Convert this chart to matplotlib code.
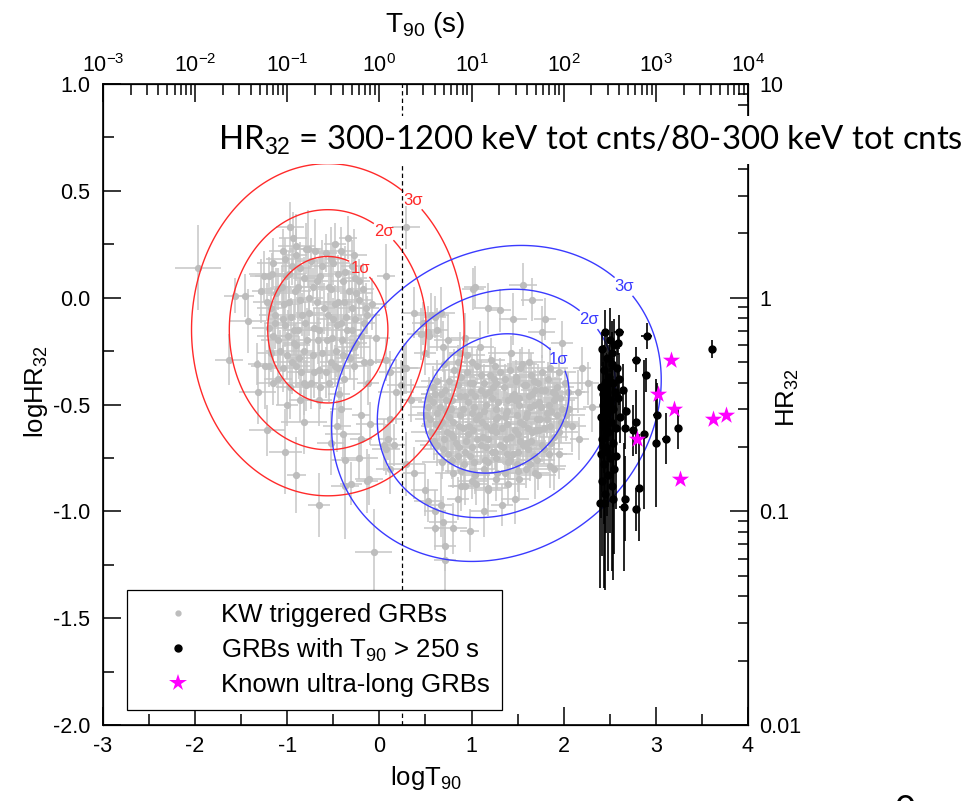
import numpy as np
import matplotlib.pyplot as plt
from matplotlib.lines import Line2D
from matplotlib.ticker import MultipleLocator, LogLocator, FixedLocator, FuncFormatter, NullFormatter

plt.rcParams['font.family'] = ['Liberation Sans', 'DejaVu Sans']
plt.rcParams['axes.unicode_minus'] = False
plt.rcParams['mathtext.fontset'] = 'custom'
plt.rcParams['mathtext.rm'] = 'Liberation Sans'
plt.rcParams['mathtext.it'] = 'Liberation Sans:italic'
plt.rcParams['mathtext.bf'] = 'Liberation Sans:bold'

# KW triggered GRBs: logT90, logHR32 and their 1-sigma errors
kw_logt = [
    -1.97, -0.97, -0.90, -0.77, -1.17, -1.28, -1.57, -1.46, -1.43, -1.63, -1.33, -1.24, -1.32, -0.82, -1.22,
    -1.02, -0.90, -0.66, -0.39, -0.53, -0.37, -0.22, -0.13, -0.06, 0.05, 0.09, -0.10, -0.20, -0.04, 0.07,
    -0.08, -0.17, -0.28, -0.48, -0.71, -0.82, -0.86, -0.66, 0.29,
    -1.18, -1.12, -1.05, -0.98, -0.93, -0.88, -0.84, -0.79, -1.15, -1.08, -1.01, -0.95, -0.90, -0.86, -0.81,
    -0.76, -1.20, -1.10, -1.03, -0.97, -0.91, -0.85, -0.72, -0.66, -0.60, -0.55, -0.50, -0.45, -0.40, -0.35,
    -0.30, -0.25, -0.20, -0.62, -0.57, -0.52, -0.47, -0.42, -0.37, -0.32, -0.27, -0.22, -0.17, -0.58, -0.48,
    -0.38, -0.28, -0.68, -0.74, -1.00, -0.94, -0.70, -0.64, -0.44, -0.34, -1.25, -0.15, -0.12, -1.06, -0.99,
    -0.87, -1.13, -0.53, -0.41,
    0.38, 0.56, 0.67, 0.47, 0.45, 0.54, 0.74, 1.02, 0.27, 0.18, 0.12, 0.29, 0.49, 0.67, 0.80,
    0.60, 0.71, 0.69, 0.71, 0.98, 0.53, 0.38, 0.11, 0.16, 0.07, -0.31, -0.11, 0.34, 0.23, 0.12,
    0.29, 0.49, 0.53, 0.62, 0.69, 0.07, -0.10, -0.42, -0.46, 0.60, 0.93, 0.87, 1.09, 1.04, 1.56,
    1.66, 1.18, 1.31, 1.45, 1.80, 1.76, 1.98, 2.20, 2.26, 2.31, 2.15, 2.09, 2.17, 1.95, 1.89,
    1.69, 1.51, 1.47, 1.33, 1.18, 1.05, 0.89, 0.85, 1.13, 0.60, -0.20, -0.37,
    0.95, 1.21, 1.43, 1.62, 0.81, 1.06, 1.31, 1.53, 1.76, 0.63, 0.89, 1.13, 1.36, 1.59, 1.83,
    2.01, 0.71, 0.99, 1.23, 1.46, 1.69, 1.91, 0.54, 0.79, 1.04, 1.29, 1.51, 1.73, 1.96, 0.66,
    0.91, 1.16, 1.39, 1.63, 1.86, 2.06, 0.51, 0.76, 1.01, 1.26, 1.49, 1.71, 1.93, 0.61, 0.86,
    1.11, 1.33, 1.56, 1.79, 2.02, 0.73, 0.96, 1.21, 1.43, 1.66, 1.89, 0.59, 0.83, 1.06, 1.31,
    1.53, 1.76, 0.69, 0.93, 1.16, 1.39, 1.61, 1.84, 0.79, 1.03, 1.26, 1.49, 1.71, 0.89, 1.13,
    1.36, 1.59, 1.01, 1.26,
    0.85, 1.10, 1.48, 1.68, 0.60, 0.88, 1.15, 1.40, 1.62, 1.84, 0.72, 1.08, 1.36, 1.60, 1.82,
    0.68, 0.97, 1.24, 1.47, 1.70, 0.80, 1.12, 1.37, 1.60, 1.00, 1.25, 1.50, 0.85, 1.15, 1.40,
    0.98, 1.27, 1.75,
]
kw_loghr = [
    0.14, 0.33, 0.24, 0.23, 0.11, 0.03, 0.01, 0.01, -0.11, -0.29, -0.31, -0.32, -0.44, -0.58, -0.62,
    -0.72, -0.83, -0.97, -0.64, -0.68, -0.88, -0.75, -0.86, -1.19, -0.69, -0.66, -0.59, -0.55, -0.19, 0.10,
    -0.03, -0.12, -0.23, -0.32, -0.35, -0.40, -0.48, -0.48, 0.33,
    -0.05, 0.02, -0.10, -0.02, -0.15, 0.05, -0.08, -0.20, -0.18, -0.25, 0.10, -0.30, -0.22, 0.14, -0.12,
    0.00, -0.32, -0.38, 0.18, -0.42, 0.20, -0.35, -0.27, -0.15, -0.05, 0.05, -0.10, -0.02, 0.08, -0.15,
    -0.05, 0.02, -0.18, 0.15, -0.20, 0.18, -0.25, -0.12, 0.12, -0.28, -0.10, 0.08, -0.30, -0.35, 0.25,
    -0.38, 0.20, 0.08, -0.40, -0.50, 0.28, 0.22, -0.42, -0.45, 0.28, 0.10, -0.05, -0.40, 0.05, -0.18,
    -0.28, -0.12, -0.30, -0.20,
    -0.07, -0.08, -0.07, -0.12, -0.17, -0.18, -0.20, 0.04, -0.33, -0.44, -0.57, -0.78, -0.90, -0.97, -1.08,
    -1.08, -1.23, -1.05, -1.16, -1.09, -0.95, -0.82, -0.80, -0.69, -0.71, -0.87, -0.85, -0.48, -0.41, -0.35,
    -0.33, -0.26, -0.16, -0.15, -0.23, -0.29, -0.30, -0.52, -0.60, -0.09, -0.19, -0.26, -0.23, 0.05, 0.06,
    -0.01, -0.05, -0.06, -0.10, -0.10, -0.16, -0.21, -0.33, -0.40, -0.51, -0.44, -0.60, -0.66, -0.73, -0.80,
    -0.82, -0.85, -0.94, -0.97, -0.90, -0.87, -0.88, -0.94, -1.00, -1.00, -0.66, -0.76,
    -0.27, -0.29, -0.26, -0.30, -0.34, -0.32, -0.35, -0.33, -0.35, -0.39, -0.37, -0.40, -0.38, -0.41, -0.38,
    -0.40, -0.43, -0.44, -0.42, -0.45, -0.43, -0.45, -0.47, -0.48, -0.46, -0.49, -0.47, -0.49, -0.47, -0.51,
    -0.52, -0.50, -0.53, -0.51, -0.53, -0.52, -0.55, -0.56, -0.54, -0.57, -0.55, -0.57, -0.55, -0.59, -0.60,
    -0.58, -0.61, -0.59, -0.61, -0.59, -0.63, -0.64, -0.62, -0.65, -0.63, -0.65, -0.67, -0.68, -0.66, -0.69,
    -0.67, -0.69, -0.71, -0.72, -0.70, -0.73, -0.71, -0.73, -0.76, -0.77, -0.75, -0.78, -0.76, -0.81, -0.80,
    -0.82, -0.80, -0.86, -0.85,
    -0.30, -0.36, -0.37, -0.39, -0.45, -0.46, -0.45, -0.48, -0.46, -0.50, -0.53, -0.55, -0.56, -0.54, -0.57,
    -0.58, -0.60, -0.60, -0.62, -0.62, -0.65, -0.65, -0.66, -0.68, -0.70, -0.72, -0.72, -0.74, -0.76, -0.77,
    -0.40, -0.40, -0.43,
]
kw_dt = [
    0.25, 0.15, 0.20, 0.12, 0.25, 0.10, 0.12, 0.10, 0.20, 0.15, 0.10, 0.15, 0.20, 0.25, 0.20,
    0.18, 0.10, 0.12, 0.20, 0.15, 0.15, 0.20, 0.12, 0.20, 0.15, 0.10, 0.15, 0.10, 0.15, 0.10,
    0.15, 0.12, 0.18, 0.15, 0.20, 0.15, 0.12, 0.15, 0.15,
    0.15, 0.20, 0.15, 0.18, 0.12, 0.20, 0.15, 0.12, 0.18, 0.15, 0.12, 0.20, 0.15, 0.12, 0.18,
    0.15, 0.12, 0.15, 0.20, 0.15, 0.12, 0.15, 0.18, 0.15, 0.12, 0.15, 0.18, 0.15, 0.12, 0.15,
    0.15, 0.18, 0.12, 0.15, 0.12, 0.15, 0.18, 0.15, 0.12, 0.15, 0.15, 0.12, 0.18, 0.15, 0.12,
    0.15, 0.15, 0.12, 0.15, 0.12, 0.15, 0.12, 0.15, 0.12, 0.10, 0.15, 0.15, 0.12, 0.10, 0.12,
    0.15, 0.12, 0.12, 0.15,
    0.15, 0.20, 0.15, 0.12, 0.15, 0.12, 0.15, 0.12, 0.15, 0.20, 0.15, 0.20, 0.15, 0.12, 0.15,
    0.12, 0.12, 0.15, 0.12, 0.10, 0.15, 0.12, 0.15, 0.12, 0.15, 0.12, 0.15, 0.12, 0.15, 0.12,
    0.15, 0.12, 0.15, 0.12, 0.15, 0.12, 0.15, 0.12, 0.15, 0.12, 0.15, 0.12, 0.15, 0.12, 0.15,
    0.12, 0.15, 0.12, 0.15, 0.12, 0.15, 0.12, 0.10, 0.12, 0.10, 0.12, 0.15, 0.10, 0.15, 0.12,
    0.15, 0.12, 0.15, 0.12, 0.15, 0.12, 0.15, 0.12, 0.15, 0.12, 0.12, 0.15,
    0.20, 0.15, 0.25, 0.18, 0.22, 0.18, 0.20, 0.15, 0.20, 0.18, 0.15, 0.25, 0.18, 0.20, 0.15,
    0.18, 0.20, 0.16, 0.22, 0.18, 0.15, 0.20, 0.18, 0.22, 0.15, 0.20, 0.18, 0.16, 0.20, 0.18,
    0.20, 0.15, 0.22, 0.18, 0.15, 0.18, 0.20, 0.16, 0.22, 0.18, 0.15, 0.20, 0.18, 0.15, 0.20,
    0.18, 0.22, 0.16, 0.20, 0.15, 0.18, 0.20, 0.15, 0.18, 0.22, 0.16, 0.20, 0.18, 0.15, 0.20,
    0.18, 0.15, 0.22, 0.18, 0.20, 0.15, 0.18, 0.20, 0.16, 0.20, 0.18, 0.15, 0.20, 0.18, 0.15,
    0.20, 0.18, 0.16, 0.20,
    0.15, 0.18, 0.15, 0.20, 0.15, 0.18, 0.15, 0.20, 0.16, 0.18, 0.15, 0.20, 0.15, 0.18, 0.16,
    0.20, 0.15, 0.18, 0.16, 0.20, 0.15, 0.18, 0.20, 0.15, 0.18, 0.16, 0.20, 0.15, 0.18, 0.15,
    0.16, 0.20, 0.15,
]
kw_dhr = [
    0.20, 0.12, 0.15, 0.18, 0.10, 0.15, 0.08, 0.10, 0.15, 0.12, 0.10, 0.20, 0.15, 0.15, 0.12,
    0.20, 0.18, 0.15, 0.12, 0.15, 0.25, 0.10, 0.15, 0.20, 0.12, 0.10, 0.10, 0.12, 0.12, 0.15,
    0.12, 0.10, 0.12, 0.10, 0.12, 0.15, 0.10, 0.12, 0.10,
    0.10, 0.12, 0.15, 0.10, 0.12, 0.15, 0.10, 0.15, 0.12, 0.10, 0.12, 0.15, 0.10, 0.12, 0.10,
    0.15, 0.10, 0.12, 0.10, 0.15, 0.12, 0.10, 0.12, 0.10, 0.12, 0.15, 0.10, 0.12, 0.10, 0.12,
    0.10, 0.12, 0.10, 0.12, 0.10, 0.15, 0.12, 0.10, 0.12, 0.10, 0.12, 0.10, 0.12, 0.12, 0.10,
    0.15, 0.12, 0.10, 0.12, 0.10, 0.12, 0.15, 0.10, 0.12, 0.10, 0.12, 0.12, 0.10, 0.10, 0.12,
    0.10, 0.12, 0.10, 0.10,
    0.12, 0.10, 0.12, 0.10, 0.12, 0.10, 0.12, 0.10, 0.12, 0.15, 0.12, 0.15, 0.12, 0.15, 0.12,
    0.10, 0.15, 0.12, 0.12, 0.10, 0.10, 0.12, 0.12, 0.10, 0.12, 0.10, 0.12, 0.10, 0.12, 0.10,
    0.12, 0.10, 0.12, 0.10, 0.12, 0.10, 0.12, 0.10, 0.12, 0.10, 0.12, 0.10, 0.12, 0.10, 0.10,
    0.10, 0.12, 0.10, 0.12, 0.10, 0.12, 0.10, 0.10, 0.10, 0.12, 0.10, 0.12, 0.10, 0.12, 0.10,
    0.12, 0.10, 0.12, 0.10, 0.12, 0.10, 0.12, 0.10, 0.12, 0.10, 0.10, 0.12,
    0.08, 0.10, 0.08, 0.06, 0.10, 0.08, 0.07, 0.09, 0.08, 0.10, 0.08, 0.09, 0.07, 0.10, 0.08,
    0.07, 0.09, 0.08, 0.10, 0.07, 0.09, 0.08, 0.10, 0.08, 0.09, 0.07, 0.10, 0.08, 0.09, 0.08,
    0.10, 0.07, 0.09, 0.08, 0.10, 0.07, 0.09, 0.08, 0.10, 0.07, 0.09, 0.08, 0.10, 0.08, 0.09,
    0.07, 0.10, 0.08, 0.09, 0.08, 0.10, 0.07, 0.09, 0.08, 0.10, 0.08, 0.09, 0.07, 0.10, 0.08,
    0.09, 0.08, 0.10, 0.07, 0.09, 0.08, 0.10, 0.08, 0.09, 0.07, 0.10, 0.08, 0.09, 0.08, 0.10,
    0.07, 0.09, 0.08, 0.10,
    0.08, 0.07, 0.08, 0.09, 0.08, 0.10, 0.07, 0.08, 0.09, 0.08, 0.10, 0.08, 0.09, 0.07, 0.08,
    0.09, 0.08, 0.10, 0.07, 0.09, 0.08, 0.07, 0.10, 0.08, 0.09, 0.08, 0.10, 0.07, 0.09, 0.08,
    0.08, 0.09, 0.08,
]

# densely packed KW bursts in the cores of the two groups
core_logt = [
    0.70, 1.00, 1.25, 1.55, 1.85,
    0.95, 1.20, 1.42, 1.65, 1.95,
    0.75, 1.02, 1.24, 1.48, 1.72, 1.93,
    0.58, 0.85, 1.10, 1.35, 1.57, 1.80, 2.05,
    0.67, 0.93, 1.19, 1.44, 1.66, 1.88,
    0.58, 0.72, 0.96, 1.22, 1.47, 1.68, 1.90,
    0.53, 0.78, 1.03, 1.27, 1.52, 1.75, 1.98,
    0.63, 0.88, 1.13, 1.37, 1.59, 1.82, 2.03,
    0.55, 0.80, 1.05, 1.29, 1.53, 1.74, 1.97,
    0.65, 0.91, 1.16, 1.38, 1.61, 1.85,
    0.56, 0.78, 1.02, 1.27, 1.50, 1.73, 1.95,
    0.70, 0.94, 1.18, 1.42, 1.65, 1.86,
    0.62, 0.86, 1.10, 1.34, 1.56, 1.79,
    0.74, 0.98, 1.22, 1.45, 1.68,
    0.68, 0.92, 1.18, 1.42, 1.63, 1.85,
    0.80, 1.04, 1.28, 1.50, 1.72,
    0.93, 1.18, 1.40,
    -1.05, -0.80, -0.58, -0.42,
    -1.15, -0.95, -0.74, -0.50, -0.30,
    -1.20, -0.98, -0.82, -0.65, -0.45, -0.26,
    -1.10, -0.92, -0.72, -0.52, -0.33, -0.18,
    -1.22, -1.04, -0.86, -0.68, -0.48, -0.38, -0.22,
    -1.13, -0.96, -0.76, -0.56, -0.36, -0.14,
    -1.20, -1.02, -0.88, -0.71, -0.46, -0.30,
    -1.10, -0.93, -0.67, -0.51, -0.25,
    -1.18, -1.00, -0.82, -0.62, -0.40,
    -1.05, -0.90, -0.66, -0.45, -0.28,
    -1.15, -0.80, -0.55,
]
core_loghr = [
    -0.31, -0.30, -0.32, -0.31, -0.33,
    -0.35, -0.36, -0.34, -0.36, -0.35,
    -0.39, -0.40, -0.38, -0.39, -0.40, -0.42,
    -0.42, -0.41, -0.43, -0.42, -0.41, -0.43, -0.44,
    -0.45, -0.46, -0.44, -0.46, -0.45, -0.44,
    -0.49, -0.48, -0.49, -0.47, -0.48, -0.50, -0.48,
    -0.51, -0.52, -0.51, -0.52, -0.50, -0.51, -0.52,
    -0.54, -0.55, -0.53, -0.54, -0.56, -0.54, -0.55,
    -0.57, -0.58, -0.57, -0.56, -0.58, -0.57, -0.58,
    -0.60, -0.61, -0.60, -0.59, -0.61, -0.60,
    -0.63, -0.64, -0.62, -0.63, -0.64, -0.62, -0.63,
    -0.66, -0.67, -0.66, -0.65, -0.67, -0.68,
    -0.69, -0.70, -0.69, -0.70, -0.69, -0.71,
    -0.73, -0.74, -0.72, -0.73, -0.74,
    -0.77, -0.78, -0.77, -0.76, -0.78, -0.79,
    -0.82, -0.83, -0.82, -0.81, -0.83,
    -0.88, -0.89, -0.87,
    0.22, 0.23, 0.21, 0.22,
    0.16, 0.15, 0.17, 0.16, 0.15,
    0.10, 0.11, 0.09, 0.10, 0.11, 0.09,
    0.04, 0.03, 0.05, 0.04, 0.03, 0.04,
    -0.02, -0.03, -0.01, -0.02, -0.03, -0.02, -0.01,
    -0.08, -0.09, -0.07, -0.08, -0.09, -0.08,
    -0.14, -0.13, -0.15, -0.14, -0.13, -0.15,
    -0.20, -0.21, -0.20, -0.19, -0.21,
    -0.26, -0.27, -0.25, -0.26, -0.27,
    -0.33, -0.32, -0.34, -0.33, -0.32,
    -0.40, -0.41, -0.40,
]
core_dt = [
    0.20, 0.18, 0.22, 0.16, 0.20,
    0.18, 0.22, 0.16, 0.20, 0.18,
    0.22, 0.18, 0.20, 0.16, 0.22, 0.18,
    0.20, 0.16, 0.22, 0.18, 0.20, 0.16, 0.18,
    0.22, 0.18, 0.20, 0.16, 0.22, 0.18,
    0.16, 0.20, 0.22, 0.18, 0.20, 0.16, 0.22,
    0.18, 0.20, 0.16, 0.22, 0.18, 0.20, 0.16,
    0.22, 0.18, 0.20, 0.16, 0.22, 0.18, 0.20,
    0.16, 0.22, 0.18, 0.20, 0.16, 0.22, 0.18,
    0.20, 0.16, 0.22, 0.18, 0.20, 0.16,
    0.22, 0.18, 0.20, 0.16, 0.22, 0.18, 0.20,
    0.16, 0.22, 0.18, 0.20, 0.16, 0.22,
    0.18, 0.20, 0.16, 0.22, 0.18, 0.20,
    0.16, 0.22, 0.18, 0.20, 0.16,
    0.22, 0.18, 0.20, 0.16, 0.22, 0.18,
    0.20, 0.16, 0.22, 0.18, 0.20,
    0.16, 0.22, 0.18,
    0.15, 0.18, 0.12, 0.15,
    0.18, 0.12, 0.15, 0.18, 0.12,
    0.15, 0.18, 0.12, 0.15, 0.18, 0.12,
    0.15, 0.18, 0.12, 0.15, 0.18, 0.12,
    0.15, 0.18, 0.12, 0.15, 0.18, 0.12, 0.15,
    0.18, 0.12, 0.15, 0.18, 0.12, 0.15,
    0.18, 0.12, 0.15, 0.18, 0.12, 0.15,
    0.18, 0.12, 0.15, 0.18, 0.12,
    0.15, 0.18, 0.12, 0.15, 0.18,
    0.12, 0.15, 0.18, 0.12, 0.15,
    0.18, 0.12, 0.15,
]
core_dhr = [
    0.08, 0.07, 0.09, 0.08, 0.10,
    0.07, 0.09, 0.08, 0.10, 0.07,
    0.09, 0.08, 0.10, 0.07, 0.09, 0.08,
    0.10, 0.07, 0.09, 0.08, 0.10, 0.07, 0.09,
    0.08, 0.10, 0.07, 0.09, 0.08, 0.10,
    0.07, 0.09, 0.08, 0.10, 0.07, 0.09, 0.08,
    0.10, 0.07, 0.09, 0.08, 0.10, 0.07, 0.09,
    0.08, 0.10, 0.07, 0.09, 0.08, 0.10, 0.07,
    0.09, 0.08, 0.10, 0.07, 0.09, 0.08, 0.10,
    0.07, 0.09, 0.08, 0.10, 0.07, 0.09,
    0.08, 0.10, 0.07, 0.09, 0.08, 0.10, 0.07,
    0.09, 0.08, 0.10, 0.07, 0.09, 0.08,
    0.10, 0.07, 0.09, 0.08, 0.10, 0.07,
    0.09, 0.08, 0.10, 0.07, 0.09,
    0.08, 0.10, 0.07, 0.09, 0.08, 0.10,
    0.07, 0.09, 0.08, 0.10, 0.07,
    0.09, 0.08, 0.10,
    0.10, 0.12, 0.09, 0.11,
    0.12, 0.09, 0.11, 0.10, 0.12,
    0.09, 0.11, 0.10, 0.12, 0.09, 0.11,
    0.10, 0.12, 0.09, 0.11, 0.10, 0.12,
    0.09, 0.11, 0.10, 0.12, 0.09, 0.11, 0.10,
    0.12, 0.09, 0.11, 0.10, 0.12, 0.09,
    0.11, 0.10, 0.12, 0.09, 0.11, 0.10,
    0.12, 0.09, 0.11, 0.10, 0.12,
    0.09, 0.11, 0.10, 0.12, 0.09,
    0.11, 0.10, 0.12, 0.09, 0.11,
    0.10, 0.12, 0.09,
]

# GRBs with T90 > 250 s
long_logt = [
    2.45, 2.50, 2.42, 2.55, 2.47, 2.52, 2.44, 2.58, 2.49, 2.53, 2.41, 2.56, 2.46, 2.50, 2.43,
    2.54, 2.47, 2.40, 2.51, 2.44, 2.57, 2.48, 2.42, 2.53, 2.46, 2.40, 2.50, 2.44, 2.55, 2.48,
    2.42, 2.52, 2.45, 2.39, 2.53, 2.49, 2.45, 2.52, 2.59, 2.61, 2.60, 2.47, 2.43, 2.57,
    2.60, 2.59, 2.79, 2.90, 2.89, 3.61, 3.01, 3.24, 3.11, 3.00, 2.87, 2.78, 2.82, 2.79, 2.65,
    2.44, 2.67, 2.75, 2.66, 2.68, 2.64,
]
long_loghr = [
    -0.16, -0.20, -0.24, -0.22, -0.28, -0.31, -0.34, -0.33, -0.37, -0.40, -0.42, -0.44, -0.46, -0.48, -0.50,
    -0.52, -0.54, -0.56, -0.58, -0.60, -0.61, -0.63, -0.66, -0.68, -0.70, -0.73, -0.75, -0.78, -0.80, -0.83,
    -0.86, -0.88, -0.92, -0.96, -0.94, -0.52, -0.40, -0.26, -0.47, -0.56, -0.38, -0.72, -0.45, -0.74,
    -0.16, -0.21, -0.29, -0.18, -0.36, -0.24, -0.55, -0.61, -0.66, -0.68, -0.64, -0.58, -0.89, -0.99, -0.98,
    -0.96, -0.94, -0.62, -0.61, -0.53, -0.43,
]
long_dt = [
    0.03, 0.03, 0.03, 0.04, 0.03, 0.03, 0.03, 0.03, 0.03, 0.04, 0.03, 0.03, 0.03, 0.03, 0.03,
    0.03, 0.03, 0.03, 0.03, 0.03, 0.03, 0.03, 0.03, 0.03, 0.03, 0.03, 0.03, 0.03, 0.03, 0.03,
    0.03, 0.03, 0.03, 0.03, 0.03, 0.03, 0.03, 0.03, 0.03, 0.03, 0.03, 0.03, 0.03, 0.03,
    0.05, 0.04, 0.05, 0.06, 0.04, 0.03, 0.04, 0.03, 0.04, 0.03, 0.03, 0.03, 0.03, 0.03, 0.05,
    0.03, 0.03, 0.04, 0.03, 0.04, 0.03,
]
long_dhr = [
    0.10, 0.15, 0.08, 0.12, 0.10, 0.20, 0.12, 0.10, 0.15, 0.12, 0.18, 0.10, 0.20, 0.15, 0.25,
    0.12, 0.20, 0.15, 0.30, 0.22, 0.18, 0.35, 0.25, 0.30, 0.40, 0.30, 0.35, 0.28, 0.40, 0.45,
    0.35, 0.40, 0.45, 0.40, 0.38, 0.15, 0.12, 0.10, 0.15, 0.12, 0.12, 0.30, 0.15, 0.25,
    0.08, 0.06, 0.06, 0.06, 0.08, 0.04, 0.15, 0.10, 0.12, 0.30, 0.35, 0.15, 0.25, 0.10, 0.30,
    0.40, 0.20, 0.12, 0.10, 0.10, 0.12,
]

# known ultra-long GRBs
ul_logt = [3.16, 3.02, 3.20, 3.62, 3.76, 2.80, 3.26]
ul_loghr = [-0.29, -0.45, -0.52, -0.57, -0.55, -0.66, -0.85]

# 2D gaussian fits of the two populations: mean logT, mean logHR, sigma logT, sigma logHR, correlation
short_fit = (-0.56, -0.15, 0.43, 0.226, 0.0)
long_fit = (1.27, -0.495, 0.52, 0.215, 0.15)
sigma_levels = [2.30, 6.18, 11.83]   # chi2 (2 dof) for 68.3, 95.4, 99.73 %
sigma_names = ['1σ', '2σ', '3σ']
short_label_pos = [(-0.17, 0.16), (0.05, 0.31), (0.37, 0.46)]
long_label_pos = [(1.98, -0.28), (2.28, -0.10), (2.67, 0.06)]

t90_cut = 0.25


def mahalanobis2(gx, gy, fit):
    mx, my, sx, sy, rho = fit
    u = (gx - mx) / sx
    v = (gy - my) / sy
    return (u * u - 2 * rho * u * v + v * v) / (1 - rho * rho)


fig = plt.figure(figsize=(9.78, 8.01), dpi=100)
ax = fig.add_axes([0.1053, 0.0949, 0.6595, 0.8002])

# catalogue bursts
gray_t = kw_logt + core_logt
gray_hr = kw_loghr + core_loghr
gray_dt = kw_dt + core_dt
gray_dhr = kw_dhr + core_dhr
ax.errorbar(gray_t, gray_hr, xerr=gray_dt, yerr=gray_dhr, fmt='o', ms=4.2, mfc='#bdbdbd', mec='#bdbdbd',
            ecolor='#c6c6c6', elinewidth=1.1, capsize=0, zorder=2)

# sigma contours of both populations
gx, gy = np.meshgrid(np.linspace(-3, 4, 701), np.linspace(-2, 1, 601))
fmt = dict(zip(sigma_levels, sigma_names))
cs_s = ax.contour(gx, gy, mahalanobis2(gx, gy, short_fit), levels=sigma_levels,
                  colors='#ff2a2a', linewidths=1.0, zorder=3)
lab_s = ax.clabel(cs_s, fmt=fmt, fontsize=12, manual=short_label_pos, inline=True, inline_spacing=3)
cs_l = ax.contour(gx, gy, mahalanobis2(gx, gy, long_fit), levels=sigma_levels,
                  colors='#3a3aff', linewidths=1.0, zorder=3)
lab_l = ax.clabel(cs_l, fmt=fmt, fontsize=12, manual=long_label_pos, inline=True, inline_spacing=3)
for t in list(lab_s) + list(lab_l):
    t.set_rotation(0)

ax.axvline(t90_cut, color='black', lw=0.9, ls=(0, (3.5, 2.5)), zorder=4)

# long bursts and ultra-long ones
ax.errorbar(long_logt, long_loghr, xerr=long_dt, yerr=long_dhr, fmt='o', ms=5, color='black',
            elinewidth=1.2, capsize=0, zorder=5)
ax.scatter(ul_logt, ul_loghr, marker='*', s=170, color='#ff00ff', linewidths=0, zorder=6)

ax.set_xlim(-3, 4)
ax.set_ylim(-2, 1)
ax.xaxis.set_major_locator(MultipleLocator(1))
ax.xaxis.set_minor_locator(MultipleLocator(0.5))
ax.yaxis.set_major_locator(MultipleLocator(0.5))
ax.yaxis.set_minor_locator(MultipleLocator(0.25))
ax.xaxis.set_major_formatter(FuncFormatter(lambda v, p: '%d' % round(v)))
ax.yaxis.set_major_formatter(FuncFormatter(lambda v, p: '%.1f' % v))
ax.tick_params(which='both', direction='in', top=False, right=False, width=1.1, labelsize=15.5)
ax.tick_params(which='major', length=13)
ax.tick_params(which='minor', length=8)
ax.tick_params(axis='y', pad=9)
ax.tick_params(axis='x', pad=8)
for sp in ax.spines.values():
    sp.set_linewidth(1.2)

ax.set_xlabel('logT$_{90}$', fontsize=18.5, labelpad=5)
ax.set_ylabel('logHR$_{32}$', fontsize=18.5)
ax.yaxis.set_label_coords(-0.082, 0.52)

# top axis: T90 in seconds
ax_top = ax.twiny()
ax_top.set_xscale('log')
ax_top.set_xlim(10 ** -3, 10 ** 4)
ax_top.xaxis.set_major_locator(LogLocator(base=10, numticks=20))
ax_top.xaxis.set_minor_locator(LogLocator(base=10, subs=np.arange(2, 10), numticks=20))
ax_top.xaxis.set_minor_formatter(NullFormatter())
ax_top.tick_params(which='both', direction='in', width=1.1, labelsize=15.5, pad=5)
ax_top.tick_params(which='major', length=13)
ax_top.tick_params(which='minor', length=8)
ax_top.set_xlabel('T$_{90}$ (s)', fontsize=20, labelpad=16)

# right axis: HR32
ax_r = ax.twinx()
ax_r.set_yscale('log')
ax_r.set_ylim(0.01, 10)
ax_r.yaxis.set_major_locator(FixedLocator([0.01, 0.1, 1, 10]))
ax_r.yaxis.set_minor_locator(LogLocator(base=10, subs=np.arange(2, 10), numticks=20))
ax_r.yaxis.set_major_formatter(FuncFormatter(lambda v, p: '%g' % v))
ax_r.yaxis.set_minor_formatter(NullFormatter())
ax_r.tick_params(which='both', direction='in', width=1.1, labelsize=15.5, pad=8)
ax_r.tick_params(which='major', length=13)
ax_r.tick_params(which='minor', length=7)
ax_r.set_ylabel('HR$_{32}$', fontsize=18.5)
ax_r.yaxis.set_label_coords(1.042, 0.51)

handles = [
    Line2D([], [], ls='none', marker='o', ms=3.5, color='#bdbdbd'),
    Line2D([], [], ls='none', marker='o', ms=5, color='black'),
    Line2D([], [], ls='none', marker='*', ms=13, color='#ff00ff', mew=0),
]
labels = ['KW triggered GRBs', 'GRBs with T$_{90}$ > 250 s', 'Known ultra-long GRBs']
leg = ax.legend(handles, labels, loc='lower left', bbox_to_anchor=(0.037, 0.023), fontsize=18.5,
                frameon=True, fancybox=False, edgecolor='black', framealpha=1, borderaxespad=0,
                handletextpad=0.15, labelspacing=0.38, borderpad=0.5, handlelength=3.0)
leg.get_frame().set_linewidth(0.9)
leg.set_zorder(10)

# ratio definition, on a white box over the plot frame
fig.text(218 / 978, 1 - 140 / 801, 'HR$_{32}$ = 300-1200 keV tot cnts/80-300 keV tot cnts',
         family='Lato', fontsize=23.7, ha='left', va='center',
         bbox=dict(boxstyle='square,pad=0.22', facecolor='white', edgecolor='none'))
fig.text(905 / 978, -0.012, '0', family='Lato', fontsize=26, ha='center', va='center')

fig.savefig('out.png', dpi=100)
